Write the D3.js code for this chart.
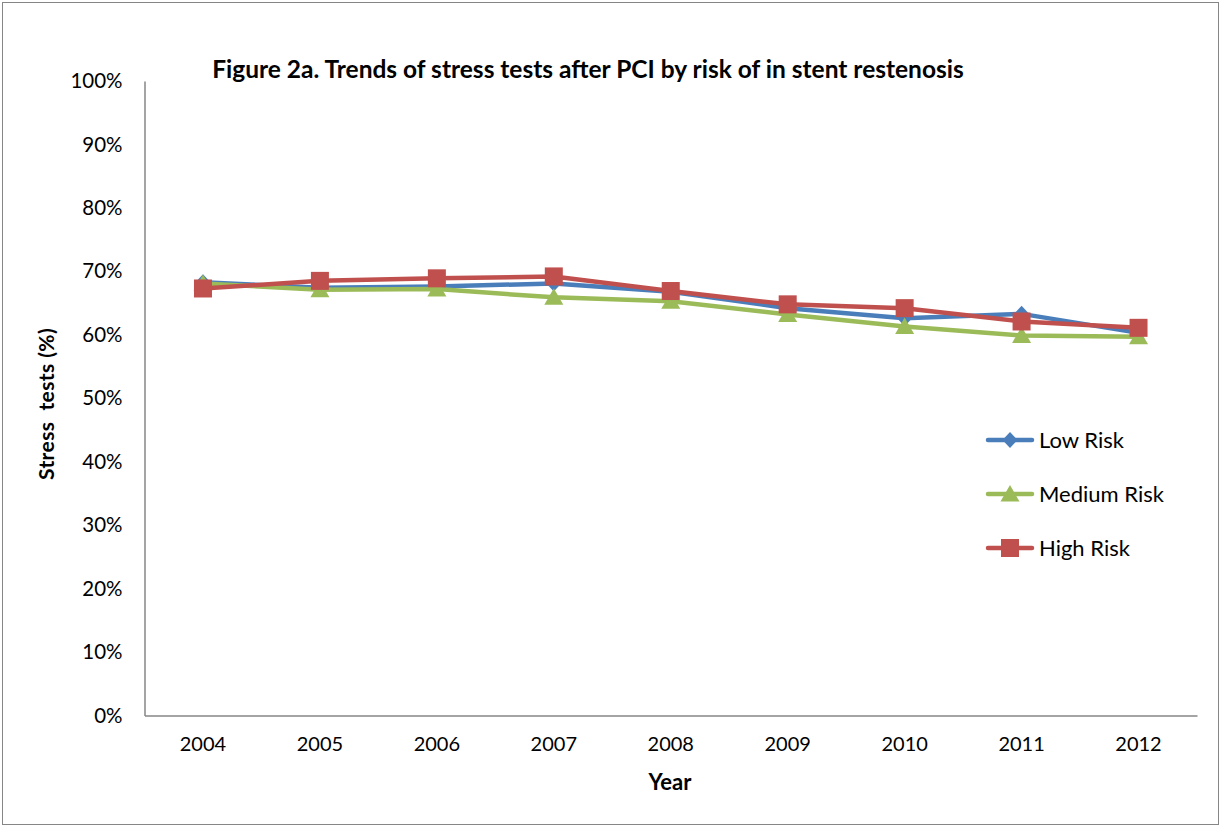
<!DOCTYPE html>
<html><head><meta charset="utf-8">
<script src="https://cdn.jsdelivr.net/npm/d3@7"></script>
<style>body{margin:0;background:#fff}svg{display:block}text{font-family:Lato,"Open Sans",sans-serif}</style>
</head><body>
<svg id="c" width="1220" height="825"></svg>
<script>
const years = ["2004","2005","2006","2007","2008","2009","2010","2011","2012"];
const lowRisk = [68.3, 67.4, 67.6, 68.1, 66.8, 64.2, 62.6, 63.3, 60.3];
const mediumRisk = [68.1, 67.1, 67.2, 65.9, 65.3, 63.2, 61.3, 59.9, 59.7];
const highRisk = [67.3, 68.5, 68.9, 69.2, 66.9, 64.8, 64.2, 62.1, 61.1];
const yTicks = [0,10,20,30,40,50,60,70,80,90,100];
const seriesNames = ["Low Risk","Medium Risk","High Risk"];

const svg = d3.select("#c");
svg.append("rect").attr("x",2.5).attr("y",2.5).attr("width",1216).attr("height",822)
  .attr("fill","none").attr("stroke","#868686").attr("stroke-width",1);

const L=144.5, R=1197, T=81, B=715.5;
const x = d3.scaleBand().domain(years).range([L,R]);
const y = d3.scaleLinear().domain([0,100]).range([B,T]);

const yAxis = svg.append("g").attr("transform",`translate(${L},0)`)
  .call(d3.axisLeft(y).tickValues(yTicks).tickSize(0).tickPadding(22).tickFormat(d=>d+"%"));
yAxis.select(".domain").attr("stroke","#868686").attr("stroke-width",1.5);
yAxis.selectAll("text").attr("font-size",20.5).attr("fill","#000").attr("font-family","Lato");

const xAxis = svg.append("g").attr("transform",`translate(0,${B})`)
  .call(d3.axisBottom(x).tickSize(0).tickPadding(21));
xAxis.select(".domain").attr("stroke","#868686").attr("stroke-width",1.5);
xAxis.selectAll("text").attr("font-size",20).attr("fill","#000").attr("font-family","Lato");

const colors = ["#4A7EBB","#9BBB59","#C0504D"];
const data = [lowRisk, mediumRisk, highRisk];
const line = d3.line().x((d,i)=>x(years[i])+x.bandwidth()/2).y(d=>y(d));

function marker(g, k, cx, cy){
  if(k===0){
    g.append("path").attr("d",`M${cx},${cy-8}L${cx+7.5},${cy}L${cx},${cy+8}L${cx-7.5},${cy}Z`).attr("fill",colors[0]);
  } else if(k===1){
    g.append("path").attr("d",`M${cx},${cy-9}L${cx+9.5},${cy+7.5}L${cx-9.5},${cy+7.5}Z`).attr("fill",colors[1]);
  } else {
    g.append("rect").attr("x",cx-9).attr("y",cy-9).attr("width",18).attr("height",18).attr("fill",colors[2]);
  }
}

data.forEach((vals,k)=>{
  const g = svg.append("g");
  g.append("path").datum(vals).attr("d",line).attr("fill","none").attr("stroke",colors[k])
    .attr("stroke-width",4.5).attr("stroke-linejoin","round").attr("stroke-linecap","round");
  vals.forEach((v,i)=>marker(g,k,x(years[i])+x.bandwidth()/2,y(v)));
});

const legY = [440,494,548];
seriesNames.forEach((n,k)=>{
  const g = svg.append("g");
  g.append("line").attr("x1",988).attr("x2",1032).attr("y1",legY[k]).attr("y2",legY[k])
    .attr("stroke",colors[k]).attr("stroke-width",4.5).attr("stroke-linecap","round");
  marker(g,k,1010,legY[k]);
  g.append("text").attr("x",1039).attr("y",legY[k]+7.5).attr("font-size",22).text(n);
});

svg.append("text").attr("x",588).attr("y",78).attr("text-anchor","middle")
  .attr("font-size",24.5).attr("font-weight","bold").text("Figure 2a. Trends of stress tests after PCI by risk of in stent restenosis");
svg.append("text").attr("x",670).attr("y",790).attr("text-anchor","middle")
  .attr("font-size",22).attr("font-weight","bold").text("Year");
svg.append("text").attr("transform","translate(54,404) rotate(-90)").attr("text-anchor","middle")
  .attr("font-size",21).attr("font-weight","bold").attr("letter-spacing",0.4)
  .style("white-space","pre").text("Stress  tests (%)");
</script>
</body></html>
